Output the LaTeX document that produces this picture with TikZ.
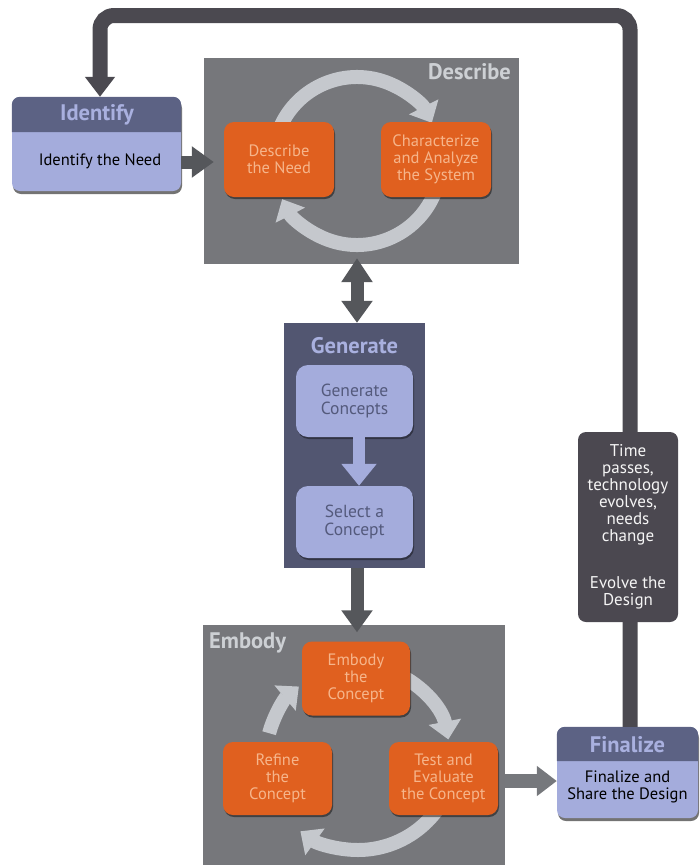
\documentclass[tikz,border=0pt]{standalone}
\usepackage{fontspec}
\setmainfont{PT Sans}
\usetikzlibrary{arrows.meta,calc,shadows}
\definecolor{loopc}{HTML}{4B4950}
\definecolor{darr}{HTML}{55575B}
\definecolor{larr}{HTML}{76787C}
\definecolor{panelc}{HTML}{76777B}
\definecolor{ptitle}{HTML}{CDD0D4}
\definecolor{cycc}{HTML}{C5C8CD}
\definecolor{orangec}{HTML}{E0601F}
\definecolor{otext}{HTML}{F6B58B}
\definecolor{genc}{HTML}{525671}
\definecolor{lavc}{HTML}{A4ACDC}
\definecolor{hdrc}{HTML}{5C6284}
\definecolor{htext}{HTML}{A9B0DF}
\definecolor{gtext}{HTML}{545A7C}
\definecolor{evoc}{HTML}{4B4850}
\tikzset{
  panel/.style={rectangle, fill=panelc, inner sep=0pt},
  genpanel/.style={rectangle, fill=genc, inner sep=0pt},
  obox/.style={rectangle, rounded corners=10pt, fill=orangec, text=otext, align=center,
    inner sep=0pt, font=\fontsize{16.5}{17}\selectfont,
    drop shadow={shadow xshift=1pt, shadow yshift=-2pt, opacity=.45, fill=black}},
  lbox/.style={rectangle, rounded corners=12pt, fill=lavc, text=gtext, align=center,
    inner sep=0pt, font=\fontsize{17.5}{17.5}\selectfont,
    drop shadow={shadow xshift=1pt, shadow yshift=-2pt, opacity=.4, fill=black}},
  outerbox/.style={rectangle, rounded corners=8pt, fill=lavc, inner sep=0pt,
    drop shadow={shadow xshift=1pt, shadow yshift=-3pt, opacity=.55, fill=black}},
  ptitlestyle/.style={text=ptitle, font=\bfseries\fontsize{22.5}{24}\selectfont, inner sep=0pt},
  htitlestyle/.style={text=htext, font=\bfseries\fontsize{22.5}{24}\selectfont, inner sep=0pt},
  bodytext/.style={text=black, align=center, inner sep=0pt, font=\fontsize{16.5}{17.5}\selectfont},
  darrow/.style={draw=darr, line width=13pt, -{Triangle[width=30pt,length=22pt]}},
  cyc/.style={draw=cycc, line width=14pt, -{Triangle[width=32pt,length=18pt]}},
}
\begin{document}
\begin{tikzpicture}[x=1pt,y=-1pt]
\useasboundingbox (0,0) rectangle (700,865);

% feedback loop line
\coordinate (loopR) at (630,15.5);
\coordinate (loopL) at (100,15.5);
\coordinate (axis) at (357,0);

% panels
\node[panel, minimum width=315, minimum height=206] (describe) at (361.5,161) {};
\node[ptitlestyle, anchor=east] (describeT) at (511,72) {Describe};
\node[genpanel, minimum width=141, minimum height=245] (generate) at (354.5,445.5) {};
\node[htitlestyle] (generateT) at (354.5,346) {Generate};
\node[panel, minimum width=302, minimum height=242] (embody) at (354,746) {};
\node[ptitlestyle, anchor=west] (embodyT) at (209,643) {Embody};

% identify box
\node[outerbox, minimum width=169, minimum height=94] (identify) at (96.5,144) {};
\fill[hdrc] (identify.west |- 0,132) {[rounded corners=8pt] -- (identify.north west) -- (identify.north east)} -- (identify.east |- 0,132) -- cycle;
\node[htitlestyle] (identifyT) at (97,115) {Identify};
\node[bodytext] (identbody) at (100,161.5) {Identify the Need};

% finalize box
\node[outerbox, minimum width=141, minimum height=91] (finalize) at (627.5,772.5) {};
\fill[hdrc] (finalize.west |- 0,761) {[rounded corners=8pt] -- (finalize.north west) -- (finalize.north east)} -- (finalize.east |- 0,761) -- cycle;
\node[htitlestyle] (finalizeT) at (627.5,745) {Finalize};
\node[bodytext] (finbody) at (627.5,787) {Finalize and\\Share the Design};

% loop connector (behind evolve box)
\draw[loopc, line width=15pt, rounded corners=14pt, -{Triangle[width=29pt,length=20pt]}]
  (finalize.north -| loopR) -- (loopR) -- (loopL) -- (identify.north -| loopL);

% evolve box
\node[rectangle, rounded corners=8pt, fill=evoc, text=white!92!gray, align=center,
  minimum width=100, minimum height=190, inner sep=0pt,
  font=\fontsize{17}{17}\selectfont] (evolve) at (628,527)
  {Time\\passes,\\technology\\evolves,\\needs\\change\\[30pt]Evolve the\\Design};

% describe cycle
\coordinate (dc) at (357,161);
\draw[cyc] ($(dc)+(200:84)$) arc[start angle=200, end angle=333, radius=84];
\draw[cyc] ($(dc)+(20:84)$) arc[start angle=20, end angle=153, radius=84];
\node[obox, minimum width=110, minimum height=75] (d1) at (279,159.5) {Describe\\the Need};
\node[obox, minimum width=110, minimum height=75] (d2) at (436,159.5) {Characterize\\and Analyze\\the System};

% generate inner
\node[lbox, minimum width=117, minimum height=72] (g1) at (354.5,401) {Generate\\Concepts};
\node[lbox, minimum width=117, minimum height=72] (g2) at (354.5,522) {Select a\\Concept};
\draw[draw=lavc, line width=12pt, -{Triangle[width=34pt,length=22pt]}]
  (g1.south -| 359,0) -- (g2.north -| 359,0);

% embody cycle
\coordinate (ec) at (358,757);
\coordinate (ecb) at (358,752);
\draw[cyc] ($(ec)+(290:92)$) arc[start angle=290, end angle=349, radius=92];
\draw[cyc] ($(ecb)+(30:98)$) arc[start angle=30, end angle=126, radius=98];
\draw[cyc] ($(ec)+(195:92)$) arc[start angle=195, end angle=230, radius=92];
\node[obox, minimum width=108, minimum height=74] (e1) at (356,678.5) {Embody\\the\\Concept};
\node[obox, minimum width=109, minimum height=73] (e2) at (277.5,778.5) {Refine\\the\\Concept};
\node[obox, minimum width=109, minimum height=73] (e3) at (443.5,778.5) {Test and\\Evaluate\\the Concept};

% main connectors
\draw[darrow] (identify.east |- 0,162) -- ($(d1.west |- 0,162)+(-10,0)$);
\draw[draw=darr, line width=13pt, {Triangle[width=30pt,length=24pt]}-{Triangle[width=30pt,length=22pt]}]
  ($(describe.south -| axis)+(0,-6)$) -- (generate.north -| axis);
\draw[darrow] (generate.south -| axis) -- ($(e1.north -| axis)+(0,-9)$);
\draw[draw=larr, line width=14pt, -{Triangle[width=29pt,length=20pt]}]
  (embody.east |- 0,781) -- (finalize.west |- 0,781);
\end{tikzpicture}
\end{document}
